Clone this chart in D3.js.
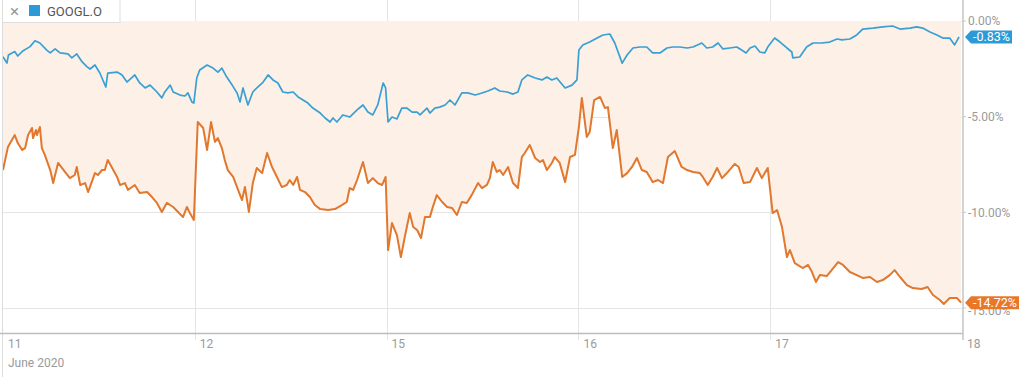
<!DOCTYPE html>
<html><head><meta charset="utf-8">
<script src="https://cdn.jsdelivr.net/npm/d3@7"></script>
<style>
body{margin:0;background:#fff;}
svg{display:block;font-family:Roboto,"Noto Sans",sans-serif;}
</style>
</head><body>
<svg id="c" width="1024" height="377"></svg>
<script>
// ---- data ----
const dayLabels = ["11","12","15","16","17","18"];
const monthLabel = "June 2020";
const sessionMinutes = 390;
const yTicks = [0, -5, -10, -15];
const seriesName = "GOOGL.O";

// trading minutes since 11 June open, % change
const googlTime = [0,8,11,24,30,41,55,65,75,89,96,106,116,132,140,150,161,171,177,187,197,209,213,232,242,252,268,278,289,299,313,323,329,340,346,360,370,376,384,388,
394,400,415,427,437,445,455,466,476,482,488,498,508,518,529,539,549,559,569,579,590,600,610,620,630,645,655,665,671,679,691,705,720,732,742,752,762,773,778,
783,791,801,811,821,832,842,848,862,868,878,888,899,909,919,933,945,960,974,986,1000,1010,1025,1037,1047,1055,1067,1082,1096,1106,1116,1126,1143,1157,1167,
1171,1179,1193,1208,1220,1234,1244,1259,1269,1281,1295,1309,1321,1336,1350,1362,1376,1391,1403,1421,1431,1443,1454,1464,1478,1492,1502,1511,1519,1529,1539,1549,1555,
1569,1580,1594,1604,1606,1620,1634,1647,1665,1681,1696,1706,1722,1736,1748,1769,1789,1809,1824,1844,1858,1870,1885,1899,1911,1925,1935,1944];
const googlPct = [-1.87,-2.20,-1.78,-1.60,-1.83,-1.55,-1.34,-1.03,-1.15,-1.52,-1.67,-1.46,-1.67,-1.72,-1.93,-1.72,-2.14,-2.40,-2.51,-2.30,-2.72,-3.45,-2.72,-2.67,-2.82,-3.19,-2.82,-3.24,-3.50,-3.35,-3.71,-4.02,-3.71,-3.35,-3.71,-3.87,-3.92,-3.76,-4.23,-4.29,
-2.98,-2.56,-2.30,-2.46,-2.67,-2.46,-2.93,-3.35,-3.76,-4.23,-3.50,-4.39,-3.71,-3.45,-3.19,-2.82,-3.08,-3.24,-3.71,-3.76,-3.71,-3.97,-4.13,-4.29,-4.55,-4.81,-5.07,-5.28,-5.07,-5.28,-4.91,-5.02,-4.65,-4.39,-4.76,-4.91,-4.39,-3.24,-3.50,
-5.28,-5.02,-5.12,-4.55,-4.55,-4.76,-4.76,-4.91,-4.55,-4.81,-4.55,-4.50,-4.39,-4.13,-4.39,-3.76,-3.76,-3.87,-3.76,-3.66,-3.50,-3.66,-3.71,-3.82,-3.71,-3.08,-2.82,-2.98,-3.08,-2.93,-3.08,-2.98,-3.50,-3.35,-3.08,
-1.52,-1.25,-1.10,-0.89,-0.73,-0.68,-1.15,-2.20,-1.78,-1.41,-1.36,-1.36,-1.67,-1.67,-1.41,-1.36,-1.36,-1.41,-1.36,-1.15,-1.41,-1.36,-1.15,-1.46,-1.41,-1.36,-1.52,-1.67,-1.41,-1.31,-1.62,-1.67,-1.36,
-0.89,-1.10,-1.41,-1.62,-1.93,-1.88,-1.36,-1.15,-1.15,-1.10,-0.94,-0.99,-0.94,-0.73,-0.42,-0.37,-0.31,-0.26,-0.42,-0.37,-0.31,-0.37,-0.57,-0.73,-0.89,-0.89,-1.25,-0.83];

const compTime = [0,10,24,30,39,45,51,59,61,67,69,75,79,85,96,102,112,126,136,146,150,157,167,173,187,193,201,207,213,222,232,238,248,254,268,278,293,303,313,323,333,346,356,366,374,380,388,
396,407,415,423,431,437,445,451,457,468,478,486,492,500,508,516,527,537,547,557,567,577,583,590,598,604,614,624,634,645,661,675,689,699,705,712,720,732,742,752,762,771,778,
783,791,801,809,817,827,834,842,850,858,868,874,882,893,903,913,923,933,943,953,966,974,984,990,996,1004,1010,1017,1027,1037,1047,1055,1061,1071,1082,1092,1098,1106,1116,1122,1132,1143,1153,1163,
1171,1177,1187,1193,1202,1214,1224,1230,1240,1248,1259,1269,1279,1289,1299,1309,1315,1321,1332,1342,1352,1366,1380,1391,1403,1417,1423,1433,1443,1452,1462,1474,1488,1496,1506,1519,1533,1543,1555,
1565,1574,1584,1594,1600,1610,1626,1637,1645,1653,1661,1675,1685,1698,1708,1722,1736,1748,1763,1777,1789,1803,1813,1824,1838,1850,1868,1880,1891,1905,1913,1925,1940,1948];
const compPct = [-7.79,-6.59,-5.96,-6.38,-6.74,-6.64,-5.96,-5.59,-6.12,-5.70,-5.96,-5.54,-6.64,-7.00,-7.79,-8.47,-7.42,-7.89,-8.21,-8.05,-7.63,-8.57,-8.47,-8.94,-7.95,-8.05,-7.79,-7.79,-7.27,-7.68,-8.15,-8.57,-8.47,-8.83,-8.57,-8.99,-8.94,-9.20,-9.51,-9.98,-9.51,-9.72,-9.98,-10.25,-9.72,-10.04,-10.40,
-5.28,-5.59,-6.74,-5.28,-6.32,-6.12,-6.64,-7.27,-7.79,-8.15,-8.83,-9.36,-8.68,-9.98,-8.47,-7.68,-7.95,-6.90,-7.63,-8.15,-8.68,-8.57,-8.31,-8.57,-8.15,-8.83,-8.94,-9.20,-9.62,-9.83,-9.88,-9.83,-9.62,-9.46,-8.73,-8.83,-8.31,-7.37,-8.47,-8.21,-8.47,-8.57,-8.15,
-11.97,-10.56,-11.19,-12.34,-11.29,-10.04,-10.77,-10.92,-11.34,-10.25,-10.25,-9.72,-9.10,-9.46,-9.72,-9.77,-10.14,-9.46,-9.51,-9.10,-8.47,-8.73,-8.57,-8.21,-7.37,-7.89,-7.79,-8.05,-7.63,-8.47,-8.73,-7.11,-6.90,-6.48,-7.16,-7.37,-7.27,-7.79,-7.42,-7.11,-7.42,-8.42,-7.11,-7.00,
-5.54,-4.02,-6.06,-5.80,-4.13,-3.97,-4.55,-4.50,-6.64,-5.70,-8.15,-7.95,-7.63,-7.16,-7.79,-7.89,-8.15,-8.42,-8.31,-8.47,-7.11,-6.80,-7.63,-7.79,-7.89,-7.95,-8.15,-8.57,-8.15,-7.68,-8.21,-7.89,-7.47,-7.63,-8.47,-8.42,-7.68,-8.21,-7.68,
-10.04,-9.88,-10.77,-12.34,-11.97,-12.65,-12.91,-12.75,-13.12,-13.64,-13.28,-13.33,-13.02,-12.60,-12.75,-13.12,-13.28,-13.43,-13.38,-13.64,-13.54,-13.28,-13.02,-13.38,-13.80,-13.96,-14.01,-13.90,-14.32,-14.58,-14.79,-14.48,-14.48,-14.72];

// ---- chart ----
const W = 1024, H = 377;
const plot = {left: 3, right: 962, top: 0, bottom: 333};
const BLUE = "#3a9fd3", BLUE_TAG = "#2b9ad6", ORANGE = "#e2772e", ORANGE_TAG = "#e8772a";
const FILL = "#fcf0e7", GRID = "#e4e4e4", TXT = "#9a9a9a";

const svg = d3.select("#c");
const nDays = dayLabels.length - 1;
const x = d3.scaleLinear().domain([0, nDays * sessionMinutes]).range([plot.left, plot.right]);
const y = d3.scaleLinear().domain([0, -15]).range([21, 308]);

const googl = googlTime.map((t, i) => ({t, v: googlPct[i]}));
const comp = compTime.map((t, i) => ({t, v: compPct[i]}));
const dayTicks = dayLabels.map((d, i) => i * sessionMinutes);

// grid
svg.append("g").selectAll("line").data(yTicks).join("line")
  .attr("x1", plot.left).attr("x2", plot.right)
  .attr("y1", d => Math.round(y(d)) + 0.5).attr("y2", d => Math.round(y(d)) + 0.5)
  .attr("stroke", GRID).attr("stroke-width", 1);
svg.append("g").selectAll("line").data(dayTicks.slice(1, -1)).join("line")
  .attr("x1", d => Math.round(x(d)) + 0.5).attr("x2", d => Math.round(x(d)) + 0.5)
  .attr("y1", 0).attr("y2", plot.bottom + 7)
  .attr("stroke", GRID).attr("stroke-width", 1);

// area from 0 to comparison line
svg.append("path").datum(comp)
  .attr("d", d3.area().x(d => x(d.t)).y0(y(0)).y1(d => y(d.v)))
  .attr("fill", FILL);

// lines
const line = d3.line().x(d => x(d.t)).y(d => y(d.v));
svg.append("path").datum(comp).attr("d", line)
  .attr("fill", "none").attr("stroke", ORANGE).attr("stroke-width", 2).attr("stroke-linejoin", "round");
svg.append("path").datum(googl).attr("d", line)
  .attr("fill", "none").attr("stroke", BLUE).attr("stroke-width", 1.7).attr("stroke-linejoin", "round");

// frame lines
svg.append("line").attr("x1", 2.5).attr("x2", 2.5).attr("y1", 0).attr("y2", H)
  .attr("stroke", "#dcdcdc");
svg.append("line").attr("x1", 963).attr("x2", 963).attr("y1", 0).attr("y2", plot.bottom + 7)
  .attr("stroke", "#c8c8c8").attr("stroke-width", 1.6);
svg.append("line").attr("x1", 0).attr("x2", 963).attr("y1", plot.bottom + 0.5).attr("y2", plot.bottom + 0.5)
  .attr("stroke", "#bdbdbd").attr("stroke-width", 1.5);

// x axis labels
const xl = svg.append("g");
xl.selectAll("text").data(dayTicks).join("text")
  .attr("x", d => x(d) + 5).attr("y", 348)
  .attr("font-size", 12).attr("fill", TXT)
  .text((d, i) => dayLabels[i]);
xl.append("text").attr("x", 8).attr("y", 367).attr("font-size", 12).attr("fill", TXT).text(monthLabel);

// y axis labels
svg.append("g").selectAll("text").data(yTicks).join("text")
  .attr("x", 968).attr("y", d => y(d) + (d === -15 ? 3 : 0)).attr("dy", "0.35em")
  .attr("font-size", 12).attr("fill", TXT)
  .text(d => d.toFixed(2) + "%");
svg.append("g").selectAll("line").data(yTicks).join("line")
  .attr("x1", 963).attr("x2", 966).attr("y1", d => y(d)).attr("y2", d => y(d))
  .attr("stroke", "#c8c8c8");

// value tags
function tag(v, color) {
  const cy = y(v), x0 = 965, h = 13;
  const g = svg.append("g");
  const p = g.append("path").attr("fill", color);
  const t = g.append("text").attr("x", x0 + 8).attr("y", cy).attr("dy", "0.36em")
    .attr("font-size", 12.5).attr("fill", "#fff")
    .text(v.toFixed(2) + "%");
  const right = x0 + 8 + t.node().getComputedTextLength() + 2;
  p.attr("d", `M${x0},${cy} L${x0 + 6},${cy - h / 2} L${right},${cy - h / 2} L${right},${cy + h / 2} L${x0 + 6},${cy + h / 2} Z`);
}
tag(googlPct[googlPct.length - 1], BLUE_TAG);
tag(compPct[compPct.length - 1], ORANGE_TAG);

// legend box
const lg = svg.append("g");
lg.append("rect").attr("x", 2.5).attr("y", -1).attr("width", 117.5).attr("height", 23.5)
  .attr("fill", "#fff").attr("stroke", "#dddddd");
lg.append("text").attr("x", 10).attr("y", 17).attr("font-size", 17).attr("fill", "#999").text("×");
lg.append("rect").attr("x", 29).attr("y", 5).attr("width", 11).attr("height", 11).attr("fill", BLUE_TAG);
lg.append("text").attr("x", 47).attr("y", 16).attr("font-size", 13).attr("fill", "#555").text(seriesName);
</script>
</body></html>
